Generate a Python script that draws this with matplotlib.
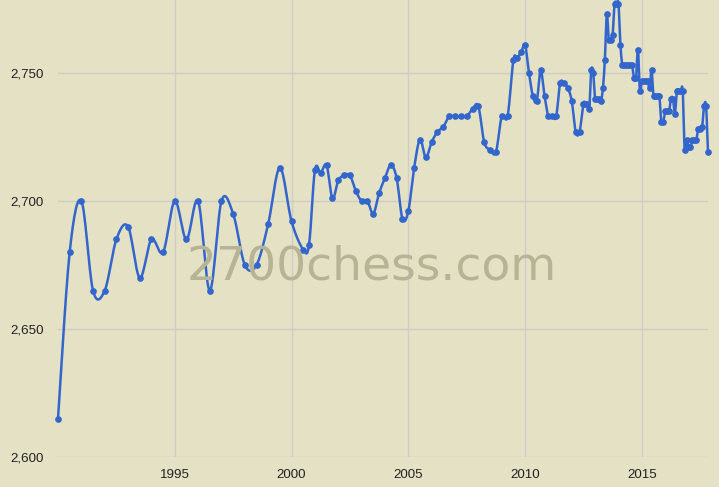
import matplotlib
matplotlib.use("Agg")
import matplotlib.pyplot as plt
import numpy as np

# rating list dates (YYYY-MM) and rating values
list_dates = [
    "1990-01", "1990-07", "1991-01", "1991-07", "1992-01", "1992-07",
    "1993-01", "1993-07", "1994-01", "1994-07", "1995-01", "1995-07",
    "1996-01", "1996-07", "1997-01", "1997-07", "1998-01", "1998-07",
    "1999-01", "1999-07", "2000-01", "2000-07", "2000-10",
    "2001-01", "2001-04", "2001-07", "2001-10",
    "2002-01", "2002-04", "2002-07", "2002-10",
    "2003-01", "2003-04", "2003-07", "2003-10",
    "2004-01", "2004-04", "2004-07", "2004-10",
    "2005-01", "2005-04", "2005-07", "2005-10",
    "2006-01", "2006-04", "2006-07", "2006-10",
    "2007-01", "2007-04", "2007-07", "2007-10",
    "2008-01", "2008-04", "2008-07", "2008-10",
    "2009-01", "2009-04", "2009-07", "2009-09", "2009-11",
    "2010-01", "2010-03", "2010-05", "2010-07", "2010-09", "2010-11",
    "2011-01", "2011-03", "2011-05", "2011-07", "2011-09", "2011-11",
    "2012-01", "2012-03", "2012-05", "2012-07", "2012-08", "2012-09",
    "2012-10", "2012-11", "2012-12",
    "2013-01", "2013-02", "2013-03", "2013-04", "2013-05", "2013-06",
    "2013-07", "2013-08", "2013-09", "2013-10", "2013-11", "2013-12",
    "2014-01", "2014-02", "2014-03", "2014-04", "2014-05", "2014-06",
    "2014-07", "2014-08", "2014-09", "2014-10", "2014-11", "2014-12",
    "2015-01", "2015-02", "2015-03", "2015-04", "2015-05", "2015-06",
    "2015-07", "2015-08", "2015-09", "2015-10", "2015-11", "2015-12",
    "2016-01", "2016-02", "2016-03", "2016-04", "2016-05", "2016-06",
    "2016-07", "2016-08", "2016-09", "2016-10", "2016-11", "2016-12",
    "2017-01", "2017-02", "2017-03", "2017-04", "2017-05", "2017-06",
    "2017-07", "2017-08", "2017-09", "2017-10", "2017-11",
]
ratings = [
    2615, 2680, 2700, 2665, 2665, 2685,
    2690, 2670, 2685, 2680, 2700, 2685,
    2700, 2665, 2700, 2695, 2675, 2675,
    2691, 2713, 2692, 2681, 2683,
    2712, 2711, 2714, 2701,
    2708, 2710, 2710, 2704,
    2700, 2700, 2695, 2703,
    2709, 2714, 2709, 2693,
    2696, 2713, 2724, 2717,
    2723, 2727, 2729, 2733,
    2733, 2733, 2733, 2736,
    2737, 2723, 2720, 2719,
    2733, 2733, 2755, 2756, 2758,
    2761, 2750, 2741, 2739, 2751, 2741,
    2733, 2733, 2733, 2746, 2746, 2744,
    2739, 2727, 2727, 2738, 2738, 2738,
    2736, 2751, 2750,
    2740, 2740, 2740, 2739, 2744, 2755,
    2773, 2763, 2763, 2765, 2777, 2777,
    2777, 2761, 2753, 2753, 2753, 2753,
    2753, 2753, 2748, 2748, 2759, 2743,
    2747, 2747, 2747, 2747, 2744, 2751,
    2741, 2741, 2741, 2741, 2731, 2731,
    2735, 2735, 2735, 2740, 2740, 2734,
    2743, 2743, 2743, 2743, 2720, 2724,
    2721, 2721, 2724, 2724, 2724, 2728,
    2728, 2729, 2737, 2737, 2719,
]

year_ticks = [1995, 2000, 2005, 2010, 2015]
rating_ticks = [2600, 2650, 2700, 2750]

BG = "#e4e1c5"
GRID = "#cdcdc6"
LINE = "#3366cc"


def to_year(stamp: str) -> float:
    year, month = stamp.split("-")
    return int(year) + (int(month) - 1) / 12


def smooth_curve(x: np.ndarray, y: np.ndarray, steps: int = 16):
    # cardinal (catmull-rom style) bezier through every point
    pts = np.column_stack([x, y])
    prev = np.vstack([pts[:1], pts[:-1]])
    nxt = np.vstack([pts[1:], pts[-1:]])
    tang = (nxt - prev) / 6.0
    t = np.linspace(0, 1, steps)[:, None]
    parts = []
    for i in range(len(pts) - 1):
        p0, p3 = pts[i], pts[i + 1]
        c1, c2 = p0 + tang[i], p3 - tang[i + 1]
        seg = ((1 - t) ** 3) * p0 + 3 * ((1 - t) ** 2) * t * c1 \
            + 3 * (1 - t) * t ** 2 * c2 + t ** 3 * p3
        parts.append(seg if i == 0 else seg[1:])
    curve = np.vstack(parts)
    return curve[:, 0], curve[:, 1]


x = np.array([to_year(d) for d in list_dates])
y = np.array(ratings, dtype=float)
sx, sy = smooth_curve(x, y)

fig = plt.figure(figsize=(7.19, 4.87), dpi=100, facecolor=BG)
ax = fig.add_axes([58 / 719, 30 / 487, 650 / 719, 457 / 487], facecolor=BG)

fig.text(372 / 719, (487 - 280) / 487, "2700chess.com", ha="center",
         va="baseline", fontsize=34, color="#b6b494", family="DejaVu Sans",
         zorder=0)

ax.plot(sx, sy, color=LINE, linewidth=1.8, zorder=3, clip_on=False)
ax.plot(x, y, "o", color=LINE, markersize=3.8, zorder=4, clip_on=False)

ax.set_xlim(x[0], x[-1])
ax.set_ylim(2600, 2778.5)
ax.set_xticks(year_ticks)
ax.set_xticklabels([str(v) for v in year_ticks])
ax.set_yticks(rating_ticks)
ax.set_yticklabels([f"{v:,}" for v in rating_ticks])
ax.grid(True, color=GRID, linewidth=1.0, zorder=1)
ax.set_axisbelow(True)
for side in ax.spines.values():
    side.set_visible(False)
ax.tick_params(length=0, labelsize=9.6, labelcolor="#222222")
ax.tick_params(axis="x", pad=9)
ax.tick_params(axis="y", pad=10)
for label in ax.get_xticklabels() + ax.get_yticklabels():
    label.set_family("Liberation Sans")
ax.patch.set_alpha(0)

fig.savefig("out.png", dpi=100, facecolor=BG)
